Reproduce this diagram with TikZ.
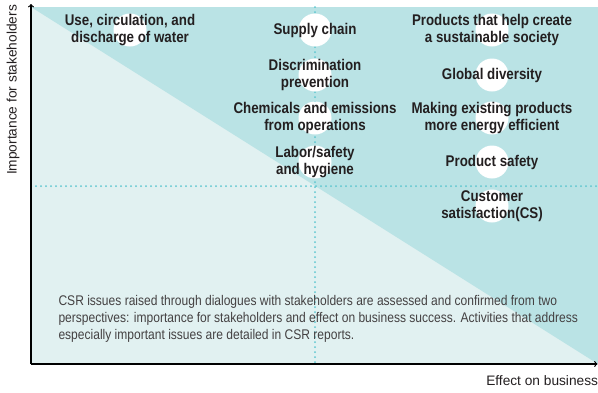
\documentclass[tikz,border=0pt]{standalone}
\usepackage{fontspec}
\setmainfont{Liberation Sans}[FakeStretch=0.86]
\newfontfamily\axisfont{Liberation Sans}
\usepackage{xcolor}
\usepackage{tikz}

\definecolor{paleteal}{HTML}{E1F1F1}
\definecolor{deepteal}{HTML}{BAE3E5}
\definecolor{dotteal}{HTML}{5CC6CF}
\definecolor{inkgray}{HTML}{231F20}

\begin{document}
\begin{tikzpicture}[x=1pt, y=-1pt,
		issue/.style={font=\bfseries\fontsize{15.5}{17}\selectfont, align=center, text=inkgray},
		spot/.style={circle, fill=white, minimum size=33pt, inner sep=0pt},
		guide/.style={dotteal, line width=2pt, line cap=round, dash pattern=on 0pt off 5pt}]
				\useasboundingbox (0,0) rectangle (598,392);
				
				%Background
				\fill[paleteal] (31,7) rectangle (598,364);
				\fill[deepteal] (31,7) -- (598,7) -- (598,364) -- cycle;
				
				%Guides
				\coordinate (midtop) at (315,7);
				\coordinate (midbot) at (315,364);
				\coordinate (midleft) at (31,186);
				\coordinate (midright) at (598,186);
				\draw[guide] (midtop) -- (midbot);
				\draw[guide] (midleft) -- (midright);
				
				%Axes
				\coordinate (origin) at (31,364);
				\coordinate (ytip) at (31,4);
				\coordinate (xtip) at (597.5,364);
				\draw[line width=1.2pt, ->] (origin) -- (ytip);
				\draw[line width=1.2pt, ->] (origin) -- (xtip);
				\node[rotate=90, font=\axisfont\fontsize{13.7}{15}\selectfont, text=inkgray] (ylabel) at (13,90) {Importance for stakeholders};
				\node[anchor=east, font=\axisfont\fontsize{13.7}{15}\selectfont, text=inkgray] (xlabel) at (601.5,381) {Effect on business};
				
				%Spots
				\node[spot] (waterdot) at (130,30) {};
				\node[spot] (supplydot) at (315,30) {};
				\node[spot] (discdot) at (315,75) {};
				\node[spot] (chemdot) at (315,118) {};
				\node[spot] (labordot) at (315,162) {};
				\node[spot] (societydot) at (492,30) {};
				\node[spot] (diversitydot) at (492,75) {};
				\node[spot] (energydot) at (492,118) {};
				\node[spot] (safetydot) at (492,162) {};
				\node[spot] (csdot) at (492,206) {};
				
				%Issues
				\node[issue] (water) at (waterdot) {Use, circulation, and\\discharge of water};
				\node[issue] (supply) at (supplydot) {Supply chain};
				\node[issue] (disc) at (discdot) {Discrimination\\prevention};
				\node[issue] (chem) at (chemdot) {Chemicals and emissions\\from operations};
				\node[issue] (labor) at (labordot) {Labor/safety\\and hygiene};
				\node[issue] (society) at (societydot) {Products that help create\\a sustainable society};
				\node[issue] (diversity) at (diversitydot) {Global diversity};
				\node[issue] (energy) at (energydot) {Making existing products\\more energy efficient};
				\node[issue] (safety) at (safetydot) {Product safety};
				\node[issue] (cs) at (csdot) {Customer\\satisfaction(CS)};
				
				%Note
				\node[anchor=north west, align=left, font=\fontsize{14}{17}\selectfont, text=inkgray!85] (note) at (55,292) {CSR issues raised through dialogues with stakeholders are assessed and confirmed from two\\perspectives: importance for stakeholders and effect on business success. Activities that address\\especially important issues are detailed in CSR reports.};
			\end{tikzpicture}
\end{document}
